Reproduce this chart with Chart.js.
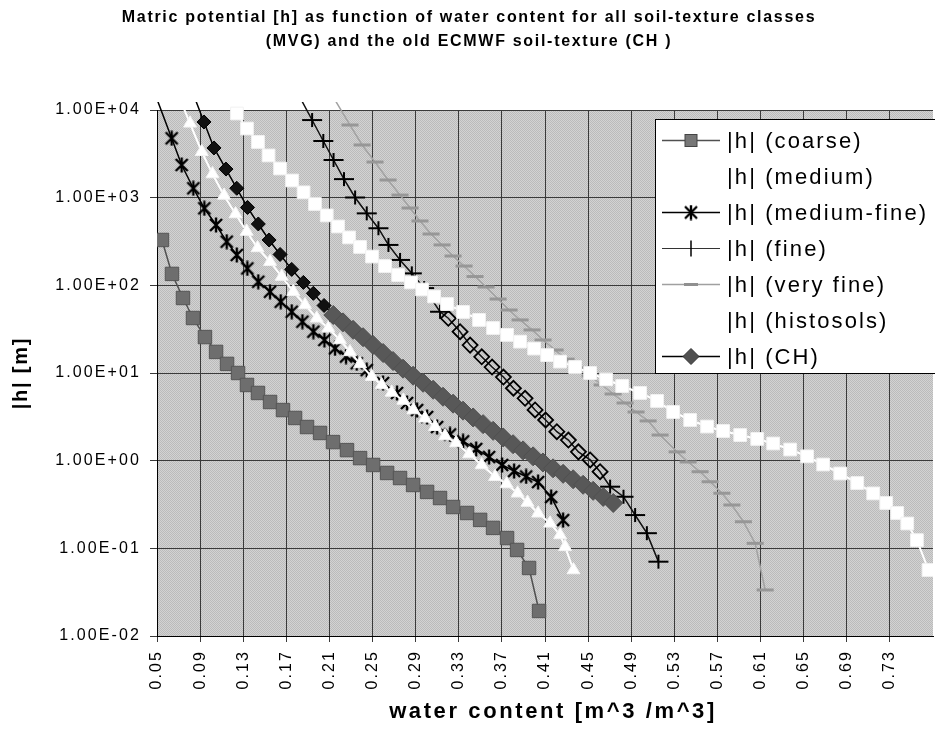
<!DOCTYPE html>
<html><head><meta charset="utf-8">
<script src="https://cdn.jsdelivr.net/npm/chart.js@4.4.1/dist/chart.umd.min.js"></script>
<style>html,body{margin:0;padding:0;background:#fff;overflow:hidden}#c{display:block}</style>
</head><body>
<canvas id="c" width="935" height="731"></canvas>
<script>
// ---------- text ----------
const TITLE_LINES = ['Matric potential [h] as function of water content for all soil-texture classes',
                     '(MVG) and the old ECMWF soil-texture (CH )'];
const X_TITLE = 'water content [m^3 /m^3]';
const Y_TITLE = '|h| [m]';
const SERIES_NAMES = ['|h| (coarse)','|h| (medium)','|h| (medium-fine)','|h| (fine)','|h| (very fine)','|h| (histosols)','|h| (CH)'];
const X_TICKS = [0.05,0.09,0.13,0.17,0.21,0.25,0.29,0.33,0.37,0.41,0.45,0.49,0.53,0.57,0.61,0.65,0.69,0.73];
const Y_TICKS = [0.01,0.1,1,10,100,1000,10000];

// ---------- data (water content, |h|) ----------
const COARSE_X = [0.0546,0.0639,0.0741,0.0834,0.0945,0.1048,0.115,0.1252,0.1335,0.1437,0.1549,0.1669,0.1781,0.1892,0.2013,0.2133,0.2263,0.2384,0.2505,0.2635,0.2755,0.2876,0.3006,0.3126,0.3247,0.3377,0.3498,0.3618,0.3748,0.3841,0.3952,0.4045];
const COARSE_H = [329,135,71.7,42.4,25.7,17.4,12.7,10.0,7.30,5.92,4.67,3.78,3.07,2.42,2.07,1.63,1.32,1.07,0.893,0.724,0.634,0.528,0.440,0.375,0.296,0.253,0.211,0.171,0.131,0.0958,0.0597,0.0193];

const MEDIUM_X = [0.0679,0.0806,0.0915,0.1015,0.1122,0.1229,0.1332,0.1433,0.1549,0.1657,0.1765,0.1874,0.1982,0.209,0.2198,0.2291,0.2384,0.2493,0.2585,0.2678,0.2786,0.2879,0.2987,0.308,0.3173,0.3275,0.3396,0.3512,0.3637,0.3744,0.3846,0.3938,0.4036,0.4147,0.424,0.4287,0.4364];
const MEDIUM_H = [16900,7050,3340,1860,1060,651,411,267,186,126,84.6,59.7,42.1,32.4,23.8,17.4,12.7,9.08,7.30,6.0,4.86,3.78,3.04,2.44,1.91,1.59,1.19,0.893,0.656,0.542,0.425,0.333,0.251,0.193,0.142,0.104,0.0566];

const MEDFINE_X = [0.0468,0.0636,0.0729,0.0837,0.0939,0.1048,0.1147,0.124,0.1338,0.144,0.1549,0.1648,0.175,0.1849,0.1951,0.2053,0.2152,0.2254,0.2353,0.2446,0.2597,0.2727,0.282,0.2913,0.3006,0.3099,0.3219,0.334,0.3461,0.3581,0.3702,0.3813,0.3925,0.4036,0.4157,0.4268];
const MEDFINE_H = [16900,4760,2360,1280,757,488,315,222,156,110,84.6,65.0,50.0,38.5,29.6,23.8,19.1,15.4,12.9,10.8,7.69,5.92,4.55,3.78,3.15,2.42,1.99,1.66,1.36,1.10,0.893,0.762,0.660,0.571,0.385,0.21];

const FINE_X = [0.179,0.1939,0.2043,0.2138,0.2235,0.2338,0.2446,0.2554,0.2647,0.2755,0.2864,0.2978,0.3126,0.3203,0.3312,0.3405,0.3513,0.3609,0.3714,0.3807,0.3915,0.4008,0.4106,0.421,0.4317,0.441,0.4519,0.4611,0.4704,0.4828,0.4936,0.5045,0.5152];
const FINE_H = [16900,7690,4430,2690,1630,1005,663,448,289,195,137,93,50,42.1,29.6,20.8,15.3,11.7,9.0,6.7,5.15,3.79,2.91,2.14,1.72,1.26,1.02,0.748,0.505,0.388,0.24,0.149,0.0705];

const VFINE_X = [0.2096,0.2291,0.2403,0.2523,0.2644,0.2755,0.2848,0.294,0.3043,0.3145,0.3247,0.3349,0.3451,0.3553,0.3665,0.3767,0.3869,0.398,0.4082,0.4194,0.4296,0.4407,0.4519,0.463,0.4732,0.4843,0.4945,0.5057,0.5168,0.5326,0.5428,0.5539,0.5632,0.5741,0.5834,0.5941,0.605,0.6143];
const VFINE_H = [16900,6740,3990,2550,1590,1070,762,542,385,289,216,166,126,95.7,69.8,52.3,40.3,31.0,23.8,18.3,14.4,11.4,9.25,7.3,5.76,4.55,3.59,2.84,1.96,1.26,0.966,0.748,0.575,0.425,0.312,0.201,0.114,0.0335];

const HISTO_X = [0.1097,0.1242,0.1335,0.1437,0.1535,0.1642,0.1753,0.186,0.1966,0.2075,0.218,0.2282,0.2384,0.2495,0.2616,0.2737,0.2857,0.2959,0.3071,0.3191,0.334,0.3488,0.3618,0.3748,0.3869,0.3999,0.412,0.424,0.4379,0.4519,0.4667,0.4816,0.4983,0.514,0.5289,0.5447,0.5604,0.5753,0.5911,0.6069,0.6217,0.6375,0.6532,0.6681,0.6839,0.6997,0.7145,0.7266,0.7368,0.7461,0.7551,0.7658];
const HISTO_H = [16900,9120,6150,4320,3030,2150,1570,1150,847,627,469,352,274,213,166,131,108,89.7,74.6,61.2,49.7,40.3,32.6,27.2,22.8,19.0,16.0,13.5,11.7,10.0,8.43,7.11,5.92,4.80,3.59,2.91,2.45,2.18,1.96,1.77,1.57,1.34,1.12,0.904,0.714,0.556,0.423,0.329,0.253,0.192,0.124,0.0566];

const CH_X = [0.0822,0.0936,0.1029,0.114,0.124,0.134,0.144,0.154,0.1642,0.175,0.1858,0.1951,0.205,0.2136,0.2226,0.2319,0.2412,0.2505,0.2598,0.269,0.2783,0.2876,0.2969,0.3062,0.3154,0.3247,0.334,0.3433,0.3526,0.3619,0.3712,0.3804,0.3897,0.399,0.4082,0.4175,0.4268,0.4361,0.4454,0.4547,0.464,0.4733];
const CH_H = [16900,7300,3690,2120,1280,773,501,329,225,152,108,81,58.9,45.9,37.8,31.1,25.6,20.9,16.9,13.7,11.2,9.31,7.74,6.44,5.36,4.47,3.72,3.11,2.61,2.19,1.84,1.54,1.31,1.12,0.953,0.818,0.708,0.614,0.531,0.453,0.386,0.329];

// ---------- helpers ----------
const FONT = "'Liberation Sans', Arial, Helvetica, sans-serif";
const pts = (xs, hs) => xs.map((x, i) => ({x: x, y: hs[i]}));

function makeAsterisk() {
  const c = document.createElement('canvas'); c.width = 16; c.height = 16;
  const g = c.getContext('2d');
  g.strokeStyle = '#000'; g.lineWidth = 2.4; g.lineCap = 'butt';
  g.beginPath();
  g.moveTo(2, 2); g.lineTo(14, 14);
  g.moveTo(14, 2); g.lineTo(2, 14);
  g.moveTo(8, 0.5); g.lineTo(8, 15.5);
  g.stroke();
  return c;
}
function makePlus() {
  const c = document.createElement('canvas'); c.width = 22; c.height = 16;
  const g = c.getContext('2d');
  g.strokeStyle = '#000'; g.lineWidth = 2;
  g.beginPath();
  g.moveTo(1, 8); g.lineTo(21, 8);
  g.moveTo(11, 1); g.lineTo(11, 15);
  g.stroke();
  return c;
}
const ASTERISK = makeAsterisk();
const PLUS = makePlus();

function makePattern(ctx) {
  const c = document.createElement('canvas'); c.width = 2; c.height = 2;
  const g = c.getContext('2d');
  g.fillStyle = '#d3d3d3'; g.fillRect(0, 0, 2, 2);
  g.fillStyle = '#bbbbbb'; g.fillRect(0, 0, 1, 1); g.fillRect(1, 1, 1, 1);
  return ctx.createPattern(c, 'repeat');
}

const CLIP = {left: 0, top: 8, right: 0, bottom: 0};

const datasets = [
  {label: SERIES_NAMES[0], data: pts(COARSE_X, COARSE_H), borderColor: '#505050', borderWidth: 1.5,
   pointStyle: 'rect', pointRadius: 9.5, pointBackgroundColor: '#6e6e6e', pointBorderColor: '#555555', pointBorderWidth: 1, order: 6},
  {label: SERIES_NAMES[1], data: pts(MEDIUM_X, MEDIUM_H), borderColor: '#ffffff', borderWidth: 2,
   pointStyle: 'triangle', pointRadius: 7.5, pointBackgroundColor: '#ffffff', pointBorderColor: '#f4f4f4', pointBorderWidth: 1, order: 4},
  {label: SERIES_NAMES[2], data: pts(MEDFINE_X, MEDFINE_H), borderColor: '#000000', borderWidth: 1.5,
   pointStyle: ASTERISK, pointRadius: 8, order: 5},
  {label: SERIES_NAMES[3], data: pts(FINE_X, FINE_H), borderColor: '#111111', borderWidth: 1.5,
   pointStyle: c => (c.raw && c.raw.y < 45 && c.raw.y > 0.6) ? 'rectRot' : PLUS,
   pointRadius: 7.5, pointBackgroundColor: 'rgba(0,0,0,0)', pointBorderColor: '#000', pointBorderWidth: 1.8, order: 3},
  {label: SERIES_NAMES[4], data: pts(VFINE_X, VFINE_H), borderColor: '#a2a2a2', borderWidth: 1.5,
   pointStyle: 'line', pointRadius: 8.5, pointBorderColor: '#979797', pointBorderWidth: 3, order: 2},
  {label: SERIES_NAMES[5], data: pts(HISTO_X, HISTO_H), borderColor: '#ffffff', borderWidth: 2,
   pointStyle: 'rect', pointRadius: 9, pointBackgroundColor: '#ffffff', pointBorderColor: '#f2f2f2', pointBorderWidth: 1, order: 1},
  {label: SERIES_NAMES[6], data: pts(CH_X, CH_H), borderColor: '#000000', borderWidth: 1.5,
   pointStyle: 'rectRot',
   pointRadius: c => (c.raw && c.raw.y >= 50) ? 7 : 9.5,
   pointBackgroundColor: c => (c.raw && c.raw.y >= 50) ? '#111111' : '#585858',
   pointBorderColor: c => (c.raw && c.raw.y >= 50) ? '#000000' : '#505050', pointBorderWidth: 1, order: 0}
].map(d => Object.assign({tension: 0, fill: false, clip: CLIP, showLine: true}, d));

// legend sample specs (style only)
const LEGEND_MARK = [
  {type: 'square', fill: '#777777', stroke: '#444444', line: '#505050', lw: 1.5},
  {type: 'triangle', fill: '#ffffff', stroke: '#ffffff', line: '#ffffff', lw: 2},
  {type: 'asterisk', line: '#000000', lw: 1.5},
  {type: 'plus', line: '#333333', lw: 1, stroke: '#000'},
  {type: 'dash', line: '#a0a0a0', lw: 1.5, stroke: '#909090'},
  {type: 'square', fill: '#ffffff', stroke: '#ffffff', line: '#ffffff', lw: 2},
  {type: 'diamond', fill: '#505050', stroke: '#333333', line: '#000000', lw: 1.5}
];

const bgPlugin = {
  id: 'bg',
  beforeDraw(chart) {
    const {ctx, chartArea: a} = chart;
    ctx.save();
    ctx.fillStyle = '#ffffff'; ctx.fillRect(0, 0, chart.width, chart.height);
    ctx.fillStyle = makePattern(ctx);
    ctx.fillRect(a.left, a.top, a.right - a.left, a.bottom - a.top);
    ctx.restore();
    ctx.letterSpacing = '2.1px';
  }
};

const overlayPlugin = {
  id: 'overlay',
  afterDraw(chart) {
    const ctx = chart.ctx;
    const a = chart.chartArea;
    // title
    ctx.save();
    ctx.fillStyle = '#000';
    ctx.font = 'bold 16px ' + FONT;
    ctx.letterSpacing = '1.7px';
    ctx.textAlign = 'center'; ctx.textBaseline = 'middle';
    ctx.fillText(TITLE_LINES[0], 469, 18);
    ctx.fillText(TITLE_LINES[1], 469, 42);
    // axis titles
    ctx.font = 'bold 22px ' + FONT;
    ctx.letterSpacing = '2.6px';
    ctx.fillText(X_TITLE, 553, 712);
    ctx.font = 'bold 20px ' + FONT;
    ctx.letterSpacing = '1.8px';
    ctx.translate(21, (a.top + a.bottom) / 2);
    ctx.rotate(-Math.PI / 2);
    ctx.fillText(Y_TITLE, 0, 0);
    ctx.restore();
    // legend
    ctx.save();
    ctx.fillStyle = '#ffffff';
    ctx.fillRect(655.5, 119.5, 300, 254);
    ctx.strokeStyle = '#000'; ctx.lineWidth = 1;
    ctx.strokeRect(655.5, 119.5, 300, 254);
    const y0 = 139.5, dy = 36.1, lx0 = 662, lx1 = 720, mx = 691;
    ctx.font = '22px ' + FONT;
    ctx.letterSpacing = '2.1px';
    ctx.textAlign = 'left'; ctx.textBaseline = 'middle';
    chart.data.datasets.forEach((ds, i) => {
      const y = Math.round(y0 + i * dy) + 0.5;
      const m = LEGEND_MARK[i];
      ctx.strokeStyle = m.line; ctx.lineWidth = m.lw;
      ctx.beginPath(); ctx.moveTo(lx0, y); ctx.lineTo(lx1, y); ctx.stroke();
      ctx.lineWidth = 1;
      if (m.type === 'square') {
        ctx.fillStyle = m.fill; ctx.strokeStyle = m.stroke;
        ctx.fillRect(mx - 6, y - 6, 12, 12); ctx.strokeRect(mx - 6, y - 6, 12, 12);
      } else if (m.type === 'triangle') {
        ctx.fillStyle = m.fill; ctx.beginPath();
        ctx.moveTo(mx, y - 6); ctx.lineTo(mx + 6, y + 4); ctx.lineTo(mx - 6, y + 4); ctx.closePath(); ctx.fill();
      } else if (m.type === 'asterisk') {
        ctx.drawImage(ASTERISK, mx - 8, y - 8);
      } else if (m.type === 'plus') {
        ctx.strokeStyle = m.stroke; ctx.lineWidth = 1.5; ctx.beginPath();
        ctx.moveTo(mx, y - 8); ctx.lineTo(mx, y + 8); ctx.stroke();
      } else if (m.type === 'dash') {
        ctx.strokeStyle = m.stroke; ctx.lineWidth = 3; ctx.beginPath();
        ctx.moveTo(mx - 7, y); ctx.lineTo(mx + 7, y); ctx.stroke();
      } else if (m.type === 'diamond') {
        ctx.fillStyle = m.fill; ctx.strokeStyle = m.stroke; ctx.beginPath();
        ctx.moveTo(mx, y - 8); ctx.lineTo(mx + 8, y); ctx.lineTo(mx, y + 8); ctx.lineTo(mx - 8, y); ctx.closePath();
        ctx.fill(); ctx.stroke();
      }
      ctx.fillStyle = '#000';
      ctx.fillText(ds.label, 727, y + 1);
    });
    ctx.restore();
  }
};

function fmtExp(v) {
  const e = Math.round(Math.log10(v));
  const m = v / Math.pow(10, e);
  const s = e < 0 ? '-' : '+';
  const a = Math.abs(e);
  return m.toFixed(2) + 'E' + s + (a < 10 ? '0' + a : '' + a);
}

new Chart(document.getElementById('c'), {
  type: 'line',
  data: {datasets: datasets},
  options: {
    responsive: false,
    animation: false,
    events: [],
    layout: {autoPadding: false, padding: {top: 110, left: 0, right: 2, bottom: 0}},
    plugins: {legend: {display: false}, title: {display: false}, tooltip: {enabled: false}},
    scales: {
      x: {
        type: 'linear', min: 0.05, max: 0.77,
        afterBuildTicks: s => { s.ticks = X_TICKS.map(v => ({value: v})); },
        afterFit: s => { s.height = 95; s.paddingLeft = 0; s.paddingRight = 0; },
        grid: {color: '#3a3a3a', lineWidth: 1, tickLength: 6, drawTicks: true},
        border: {color: '#000', width: 1},
        ticks: {autoSkip: false, minRotation: 90, maxRotation: 90, padding: 8, color: '#000',
                font: {family: FONT, size: 16}, callback: v => v.toFixed(2)},
        title: {display: false}
      },
      y: {
        type: 'logarithmic', min: 0.01, max: 10000,
        afterBuildTicks: s => { s.ticks = Y_TICKS.map(v => ({value: v})); },
        afterFit: s => { s.width = 157; s.paddingTop = 0; s.paddingBottom = 0; },
        grid: {color: '#3a3a3a', lineWidth: 1, tickLength: 7, drawTicks: true},
        border: {color: '#000', width: 1},
        ticks: {autoSkip: false, padding: 9, color: '#000', font: {family: FONT, size: 16}, callback: v => fmtExp(v)},
        title: {display: false}
      }
    }
  },
  plugins: [bgPlugin, overlayPlugin]
});
</script>
</body></html>
